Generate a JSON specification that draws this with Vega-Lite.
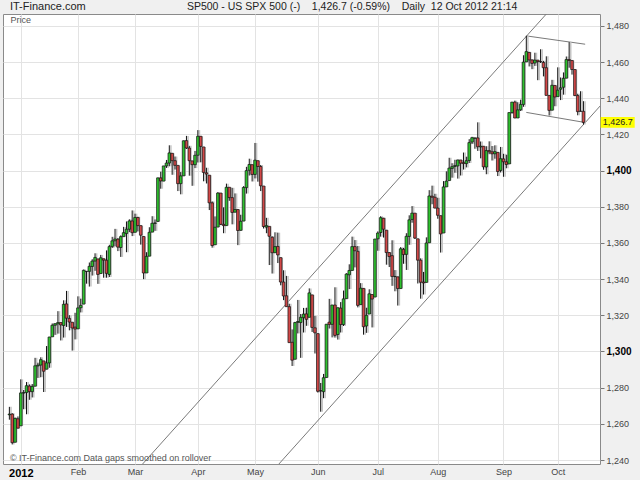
{
  "$schema": "https://vega.github.io/schema/vega-lite/v6.json",
  "width": 597,
  "height": 450,
  "autosize": {"type": "none"},
  "padding": {"left": 3, "top": 14, "right": 40, "bottom": 16},
  "background": "#f0f0f0",
  "config": {
    "font": "Liberation Sans",
    "view": {"fill": "#ffffff", "stroke": "#8a8a8a", "strokeWidth": 1}
  },
  "datasets": {
    "ohlc": [
      {"i":0,"d":"2011-12-27","o":1265.0,"h":1269.4,"l":1262.3,"c":1265.4},
      {"i":1,"d":"2011-12-28","o":1265.4,"h":1265.9,"l":1248.6,"c":1249.6},
      {"i":2,"d":"2011-12-29","o":1249.8,"h":1263.5,"l":1249.8,"c":1263.0},
      {"i":3,"d":"2011-12-30","o":1262.8,"h":1264.1,"l":1257.5,"c":1257.6},
      {"i":4,"d":"2012-01-03","o":1258.9,"h":1284.6,"l":1258.9,"c":1277.1},
      {"i":5,"d":"2012-01-04","o":1277.0,"h":1278.7,"l":1268.1,"c":1277.3},
      {"i":6,"d":"2012-01-05","o":1277.3,"h":1283.1,"l":1265.3,"c":1281.1},
      {"i":7,"d":"2012-01-06","o":1280.9,"h":1281.8,"l":1273.3,"c":1277.8},
      {"i":8,"d":"2012-01-09","o":1277.8,"h":1282.0,"l":1274.6,"c":1280.7},
      {"i":9,"d":"2012-01-10","o":1280.8,"h":1296.5,"l":1280.8,"c":1292.1},
      {"i":10,"d":"2012-01-11","o":1292.0,"h":1293.8,"l":1285.4,"c":1292.5},
      {"i":11,"d":"2012-01-12","o":1292.5,"h":1296.8,"l":1285.8,"c":1295.5},
      {"i":12,"d":"2012-01-13","o":1294.8,"h":1294.8,"l":1277.6,"c":1289.1},
      {"i":13,"d":"2012-01-17","o":1290.2,"h":1303.0,"l":1290.2,"c":1293.7},
      {"i":14,"d":"2012-01-18","o":1293.7,"h":1308.1,"l":1291.0,"c":1308.0},
      {"i":15,"d":"2012-01-19","o":1308.1,"h":1315.5,"l":1308.1,"c":1314.5},
      {"i":16,"d":"2012-01-20","o":1314.5,"h":1315.4,"l":1309.2,"c":1315.4},
      {"i":17,"d":"2012-01-23","o":1315.3,"h":1322.3,"l":1309.9,"c":1316.0},
      {"i":18,"d":"2012-01-24","o":1316.0,"h":1316.0,"l":1306.1,"c":1314.7},
      {"i":19,"d":"2012-01-25","o":1314.4,"h":1328.3,"l":1307.7,"c":1326.1},
      {"i":20,"d":"2012-01-26","o":1326.3,"h":1333.5,"l":1313.6,"c":1318.4},
      {"i":21,"d":"2012-01-27","o":1318.3,"h":1320.1,"l":1311.7,"c":1316.3},
      {"i":22,"d":"2012-01-30","o":1316.2,"h":1316.2,"l":1300.5,"c":1313.0},
      {"i":23,"d":"2012-01-31","o":1313.5,"h":1321.4,"l":1306.7,"c":1312.4},
      {"i":24,"d":"2012-02-01","o":1312.5,"h":1330.5,"l":1312.5,"c":1324.1},
      {"i":25,"d":"2012-02-02","o":1324.2,"h":1329.2,"l":1321.6,"c":1325.5},
      {"i":26,"d":"2012-02-03","o":1326.2,"h":1345.3,"l":1326.2,"c":1344.9},
      {"i":27,"d":"2012-02-06","o":1344.3,"h":1344.4,"l":1337.5,"c":1344.3},
      {"i":28,"d":"2012-02-07","o":1344.3,"h":1349.2,"l":1335.9,"c":1347.1},
      {"i":29,"d":"2012-02-08","o":1347.0,"h":1351.0,"l":1342.0,"c":1350.0},
      {"i":30,"d":"2012-02-09","o":1350.0,"h":1354.3,"l":1344.6,"c":1352.0},
      {"i":31,"d":"2012-02-10","o":1351.2,"h":1351.2,"l":1337.4,"c":1342.6},
      {"i":32,"d":"2012-02-13","o":1343.1,"h":1353.4,"l":1343.1,"c":1351.8},
      {"i":33,"d":"2012-02-14","o":1351.3,"h":1351.3,"l":1340.8,"c":1350.5},
      {"i":34,"d":"2012-02-15","o":1350.5,"h":1355.9,"l":1340.8,"c":1343.2},
      {"i":35,"d":"2012-02-16","o":1342.6,"h":1359.0,"l":1341.2,"c":1358.0},
      {"i":36,"d":"2012-02-17","o":1358.1,"h":1363.4,"l":1357.2,"c":1361.2},
      {"i":37,"d":"2012-02-21","o":1361.2,"h":1367.8,"l":1358.1,"c":1362.2},
      {"i":38,"d":"2012-02-22","o":1362.1,"h":1362.7,"l":1355.5,"c":1357.7},
      {"i":39,"d":"2012-02-23","o":1357.5,"h":1364.2,"l":1352.3,"c":1363.5},
      {"i":40,"d":"2012-02-24","o":1363.5,"h":1368.9,"l":1363.5,"c":1365.7},
      {"i":41,"d":"2012-02-27","o":1365.2,"h":1371.9,"l":1354.9,"c":1367.6},
      {"i":42,"d":"2012-02-28","o":1367.6,"h":1373.1,"l":1366.0,"c":1372.2},
      {"i":43,"d":"2012-02-29","o":1372.2,"h":1378.0,"l":1363.8,"c":1365.7},
      {"i":44,"d":"2012-03-01","o":1365.9,"h":1376.2,"l":1365.9,"c":1374.1},
      {"i":45,"d":"2012-03-02","o":1374.1,"h":1374.5,"l":1366.4,"c":1369.6},
      {"i":46,"d":"2012-03-05","o":1369.6,"h":1369.6,"l":1359.1,"c":1364.3},
      {"i":47,"d":"2012-03-06","o":1363.6,"h":1363.6,"l":1340.0,"c":1343.4},
      {"i":48,"d":"2012-03-07","o":1343.4,"h":1354.9,"l":1343.4,"c":1352.6},
      {"i":49,"d":"2012-03-08","o":1352.7,"h":1368.7,"l":1352.7,"c":1365.9},
      {"i":50,"d":"2012-03-09","o":1366.0,"h":1374.8,"l":1366.0,"c":1370.9},
      {"i":51,"d":"2012-03-12","o":1370.8,"h":1373.0,"l":1366.7,"c":1371.1},
      {"i":52,"d":"2012-03-13","o":1371.9,"h":1396.1,"l":1371.9,"c":1396.0},
      {"i":53,"d":"2012-03-14","o":1396.0,"h":1399.4,"l":1390.0,"c":1394.3},
      {"i":54,"d":"2012-03-15","o":1394.2,"h":1402.6,"l":1394.2,"c":1402.6},
      {"i":55,"d":"2012-03-16","o":1402.6,"h":1405.9,"l":1401.5,"c":1404.2},
      {"i":56,"d":"2012-03-19","o":1404.2,"h":1414.0,"l":1402.4,"c":1409.8},
      {"i":57,"d":"2012-03-20","o":1409.6,"h":1409.6,"l":1397.7,"c":1405.5},
      {"i":58,"d":"2012-03-21","o":1405.5,"h":1407.8,"l":1400.6,"c":1402.9},
      {"i":59,"d":"2012-03-22","o":1402.9,"h":1402.9,"l":1388.7,"c":1392.8},
      {"i":60,"d":"2012-03-23","o":1392.8,"h":1399.2,"l":1386.9,"c":1397.1},
      {"i":61,"d":"2012-03-26","o":1397.1,"h":1416.6,"l":1397.1,"c":1416.5},
      {"i":62,"d":"2012-03-27","o":1416.6,"h":1419.2,"l":1412.0,"c":1412.5},
      {"i":63,"d":"2012-03-28","o":1412.5,"h":1413.7,"l":1397.2,"c":1405.5},
      {"i":64,"d":"2012-03-29","o":1405.4,"h":1405.4,"l":1391.6,"c":1403.3},
      {"i":65,"d":"2012-03-30","o":1403.3,"h":1410.9,"l":1401.4,"c":1408.5},
      {"i":66,"d":"2012-04-02","o":1408.5,"h":1422.4,"l":1404.5,"c":1419.0},
      {"i":67,"d":"2012-04-03","o":1419.0,"h":1419.0,"l":1404.6,"c":1413.4},
      {"i":68,"d":"2012-04-04","o":1413.1,"h":1413.1,"l":1394.1,"c":1399.0},
      {"i":69,"d":"2012-04-05","o":1398.8,"h":1401.6,"l":1392.9,"c":1398.1},
      {"i":70,"d":"2012-04-09","o":1397.5,"h":1397.5,"l":1378.2,"c":1382.2},
      {"i":71,"d":"2012-04-10","o":1382.2,"h":1383.0,"l":1357.4,"c":1358.6},
      {"i":72,"d":"2012-04-11","o":1359.0,"h":1374.7,"l":1359.0,"c":1368.7},
      {"i":73,"d":"2012-04-12","o":1368.8,"h":1388.1,"l":1368.8,"c":1387.6},
      {"i":74,"d":"2012-04-13","o":1387.6,"h":1387.6,"l":1369.9,"c":1370.3},
      {"i":75,"d":"2012-04-16","o":1370.3,"h":1379.7,"l":1365.4,"c":1369.6},
      {"i":76,"d":"2012-04-17","o":1369.6,"h":1392.8,"l":1369.6,"c":1390.8},
      {"i":77,"d":"2012-04-18","o":1390.8,"h":1390.8,"l":1383.3,"c":1385.1},
      {"i":78,"d":"2012-04-19","o":1385.1,"h":1390.5,"l":1370.3,"c":1376.9},
      {"i":79,"d":"2012-04-20","o":1377.0,"h":1387.4,"l":1377.0,"c":1378.5},
      {"i":80,"d":"2012-04-23","o":1378.5,"h":1378.5,"l":1358.8,"c":1366.9},
      {"i":81,"d":"2012-04-24","o":1367.0,"h":1375.6,"l":1366.8,"c":1372.0},
      {"i":82,"d":"2012-04-25","o":1372.1,"h":1391.4,"l":1372.1,"c":1390.7},
      {"i":83,"d":"2012-04-26","o":1390.6,"h":1402.1,"l":1387.3,"c":1400.0},
      {"i":84,"d":"2012-04-27","o":1400.2,"h":1406.6,"l":1397.3,"c":1403.4},
      {"i":85,"d":"2012-04-30","o":1403.3,"h":1403.3,"l":1394.0,"c":1397.9},
      {"i":86,"d":"2012-05-01","o":1397.9,"h":1415.3,"l":1395.7,"c":1405.8},
      {"i":87,"d":"2012-05-02","o":1405.5,"h":1405.5,"l":1393.9,"c":1402.3},
      {"i":88,"d":"2012-05-03","o":1402.3,"h":1403.1,"l":1388.7,"c":1391.6},
      {"i":89,"d":"2012-05-04","o":1391.5,"h":1391.5,"l":1368.0,"c":1369.1},
      {"i":90,"d":"2012-05-07","o":1368.8,"h":1373.9,"l":1365.4,"c":1369.6},
      {"i":91,"d":"2012-05-08","o":1369.2,"h":1369.2,"l":1347.8,"c":1363.7},
      {"i":92,"d":"2012-05-09","o":1363.2,"h":1363.7,"l":1343.1,"c":1354.6},
      {"i":93,"d":"2012-05-10","o":1354.6,"h":1365.9,"l":1354.6,"c":1358.0},
      {"i":94,"d":"2012-05-11","o":1358.1,"h":1365.7,"l":1348.9,"c":1353.4},
      {"i":95,"d":"2012-05-14","o":1351.9,"h":1351.9,"l":1336.6,"c":1338.4},
      {"i":96,"d":"2012-05-15","o":1338.4,"h":1344.9,"l":1328.4,"c":1330.7},
      {"i":97,"d":"2012-05-16","o":1330.8,"h":1341.8,"l":1324.8,"c":1324.8},
      {"i":98,"d":"2012-05-17","o":1324.8,"h":1326.4,"l":1304.9,"c":1304.9},
      {"i":99,"d":"2012-05-18","o":1305.1,"h":1312.2,"l":1292.0,"c":1295.2},
      {"i":100,"d":"2012-05-21","o":1295.7,"h":1316.4,"l":1295.7,"c":1316.0},
      {"i":101,"d":"2012-05-22","o":1316.1,"h":1328.5,"l":1310.0,"c":1316.6},
      {"i":102,"d":"2012-05-23","o":1316.0,"h":1320.7,"l":1296.5,"c":1318.9},
      {"i":103,"d":"2012-05-24","o":1318.7,"h":1324.1,"l":1310.5,"c":1320.7},
      {"i":104,"d":"2012-05-25","o":1320.8,"h":1324.2,"l":1314.2,"c":1317.8},
      {"i":105,"d":"2012-05-29","o":1318.9,"h":1334.9,"l":1318.9,"c":1332.4},
      {"i":106,"d":"2012-05-30","o":1331.3,"h":1331.3,"l":1310.8,"c":1313.3},
      {"i":107,"d":"2012-05-31","o":1313.1,"h":1319.7,"l":1298.9,"c":1310.3},
      {"i":108,"d":"2012-06-01","o":1309.9,"h":1309.9,"l":1277.3,"c":1278.0},
      {"i":109,"d":"2012-06-04","o":1278.3,"h":1282.6,"l":1266.7,"c":1278.2},
      {"i":110,"d":"2012-06-05","o":1277.8,"h":1287.6,"l":1274.2,"c":1285.5},
      {"i":111,"d":"2012-06-06","o":1285.6,"h":1315.1,"l":1285.6,"c":1315.1},
      {"i":112,"d":"2012-06-07","o":1316.2,"h":1329.1,"l":1312.7,"c":1315.0},
      {"i":113,"d":"2012-06-08","o":1315.0,"h":1325.8,"l":1307.8,"c":1325.7},
      {"i":114,"d":"2012-06-11","o":1325.7,"h":1335.5,"l":1307.7,"c":1308.9},
      {"i":115,"d":"2012-06-12","o":1309.4,"h":1324.3,"l":1306.6,"c":1324.2},
      {"i":116,"d":"2012-06-13","o":1324.0,"h":1327.3,"l":1310.5,"c":1314.9},
      {"i":117,"d":"2012-06-14","o":1314.9,"h":1333.7,"l":1314.1,"c":1329.1},
      {"i":118,"d":"2012-06-15","o":1329.2,"h":1343.3,"l":1329.2,"c":1342.8},
      {"i":119,"d":"2012-06-18","o":1342.4,"h":1348.2,"l":1334.5,"c":1344.8},
      {"i":120,"d":"2012-06-19","o":1344.8,"h":1363.5,"l":1344.8,"c":1358.0},
      {"i":121,"d":"2012-06-20","o":1358.0,"h":1361.6,"l":1346.5,"c":1355.7},
      {"i":122,"d":"2012-06-21","o":1355.4,"h":1358.3,"l":1324.4,"c":1325.5},
      {"i":123,"d":"2012-06-22","o":1325.9,"h":1337.8,"l":1325.9,"c":1335.0},
      {"i":124,"d":"2012-06-25","o":1334.9,"h":1334.9,"l":1309.3,"c":1313.7},
      {"i":125,"d":"2012-06-26","o":1314.1,"h":1324.2,"l":1310.3,"c":1320.0},
      {"i":126,"d":"2012-06-27","o":1320.7,"h":1334.4,"l":1320.7,"c":1331.9},
      {"i":127,"d":"2012-06-28","o":1331.5,"h":1331.5,"l":1313.3,"c":1329.0},
      {"i":128,"d":"2012-06-29","o":1330.1,"h":1362.2,"l":1330.1,"c":1362.2},
      {"i":129,"d":"2012-07-02","o":1362.3,"h":1366.4,"l":1355.7,"c":1365.5},
      {"i":130,"d":"2012-07-03","o":1365.8,"h":1374.8,"l":1363.5,"c":1374.0},
      {"i":131,"d":"2012-07-05","o":1373.7,"h":1373.9,"l":1363.0,"c":1367.6},
      {"i":132,"d":"2012-07-06","o":1367.1,"h":1367.1,"l":1348.0,"c":1354.7},
      {"i":133,"d":"2012-07-09","o":1354.7,"h":1354.9,"l":1346.7,"c":1352.5},
      {"i":134,"d":"2012-07-10","o":1353.0,"h":1361.5,"l":1336.3,"c":1341.5},
      {"i":135,"d":"2012-07-11","o":1341.4,"h":1345.0,"l":1333.3,"c":1341.5},
      {"i":136,"d":"2012-07-12","o":1341.3,"h":1341.3,"l":1325.4,"c":1334.8},
      {"i":137,"d":"2012-07-13","o":1334.8,"h":1357.7,"l":1334.8,"c":1356.8},
      {"i":138,"d":"2012-07-16","o":1356.5,"h":1357.3,"l":1348.5,"c":1353.6},
      {"i":139,"d":"2012-07-17","o":1353.7,"h":1365.4,"l":1345.1,"c":1363.7},
      {"i":140,"d":"2012-07-18","o":1363.6,"h":1375.3,"l":1359.0,"c":1372.8},
      {"i":141,"d":"2012-07-19","o":1373.0,"h":1380.4,"l":1371.2,"c":1376.5},
      {"i":142,"d":"2012-07-20","o":1376.5,"h":1376.5,"l":1362.2,"c":1362.7},
      {"i":143,"d":"2012-07-23","o":1362.3,"h":1362.3,"l":1337.6,"c":1350.5},
      {"i":144,"d":"2012-07-24","o":1350.5,"h":1351.5,"l":1329.2,"c":1338.3},
      {"i":145,"d":"2012-07-25","o":1338.4,"h":1344.0,"l":1331.5,"c":1337.9},
      {"i":146,"d":"2012-07-26","o":1338.2,"h":1363.1,"l":1338.2,"c":1360.0},
      {"i":147,"d":"2012-07-27","o":1360.1,"h":1389.2,"l":1360.1,"c":1386.0},
      {"i":148,"d":"2012-07-30","o":1385.9,"h":1391.7,"l":1381.4,"c":1385.3},
      {"i":149,"d":"2012-07-31","o":1385.3,"h":1387.2,"l":1379.2,"c":1379.3},
      {"i":150,"d":"2012-08-01","o":1379.3,"h":1385.0,"l":1373.4,"c":1375.3},
      {"i":151,"d":"2012-08-02","o":1375.1,"h":1375.1,"l":1354.7,"c":1365.0},
      {"i":152,"d":"2012-08-03","o":1365.5,"h":1394.2,"l":1365.5,"c":1391.0},
      {"i":153,"d":"2012-08-06","o":1391.0,"h":1399.6,"l":1391.0,"c":1394.2},
      {"i":154,"d":"2012-08-07","o":1394.5,"h":1407.1,"l":1394.5,"c":1401.4},
      {"i":155,"d":"2012-08-08","o":1401.2,"h":1404.1,"l":1396.1,"c":1402.2},
      {"i":156,"d":"2012-08-09","o":1402.3,"h":1406.0,"l":1398.8,"c":1402.8},
      {"i":157,"d":"2012-08-10","o":1402.6,"h":1406.0,"l":1395.6,"c":1405.9},
      {"i":158,"d":"2012-08-13","o":1405.9,"h":1405.9,"l":1397.3,"c":1404.1},
      {"i":159,"d":"2012-08-14","o":1404.4,"h":1410.0,"l":1400.6,"c":1403.9},
      {"i":160,"d":"2012-08-15","o":1403.9,"h":1407.7,"l":1401.8,"c":1405.5},
      {"i":161,"d":"2012-08-16","o":1405.6,"h":1417.4,"l":1404.2,"c":1415.5},
      {"i":162,"d":"2012-08-17","o":1415.8,"h":1418.7,"l":1414.7,"c":1418.2},
      {"i":163,"d":"2012-08-20","o":1417.9,"h":1418.1,"l":1412.1,"c":1418.1},
      {"i":164,"d":"2012-08-21","o":1418.1,"h":1426.7,"l":1410.9,"c":1413.2},
      {"i":165,"d":"2012-08-22","o":1413.1,"h":1416.1,"l":1406.8,"c":1413.5},
      {"i":166,"d":"2012-08-23","o":1413.5,"h":1413.5,"l":1400.5,"c":1402.1},
      {"i":167,"d":"2012-08-24","o":1402.0,"h":1413.5,"l":1398.0,"c":1411.1},
      {"i":168,"d":"2012-08-27","o":1411.1,"h":1416.2,"l":1409.1,"c":1410.4},
      {"i":169,"d":"2012-08-28","o":1410.4,"h":1413.6,"l":1405.6,"c":1409.3},
      {"i":170,"d":"2012-08-29","o":1409.3,"h":1414.0,"l":1406.6,"c":1410.5},
      {"i":171,"d":"2012-08-30","o":1410.1,"h":1410.1,"l":1397.0,"c":1399.5},
      {"i":172,"d":"2012-08-31","o":1400.1,"h":1413.1,"l":1399.0,"c":1406.6},
      {"i":173,"d":"2012-09-04","o":1406.5,"h":1409.3,"l":1396.6,"c":1404.9},
      {"i":174,"d":"2012-09-05","o":1404.9,"h":1408.8,"l":1401.3,"c":1403.4},
      {"i":175,"d":"2012-09-06","o":1403.7,"h":1432.1,"l":1403.7,"c":1432.1},
      {"i":176,"d":"2012-09-07","o":1432.1,"h":1437.9,"l":1431.5,"c":1437.9},
      {"i":177,"d":"2012-09-10","o":1437.9,"h":1438.7,"l":1429.0,"c":1429.1},
      {"i":178,"d":"2012-09-11","o":1429.1,"h":1437.8,"l":1429.1,"c":1433.6},
      {"i":179,"d":"2012-09-12","o":1433.6,"h":1439.2,"l":1433.0,"c":1436.6},
      {"i":180,"d":"2012-09-13","o":1436.6,"h":1463.8,"l":1435.3,"c":1460.0},
      {"i":181,"d":"2012-09-14","o":1460.1,"h":1474.5,"l":1460.1,"c":1465.8},
      {"i":182,"d":"2012-09-17","o":1465.4,"h":1465.6,"l":1457.6,"c":1461.2},
      {"i":183,"d":"2012-09-18","o":1461.2,"h":1461.5,"l":1456.1,"c":1459.3},
      {"i":184,"d":"2012-09-19","o":1459.5,"h":1465.2,"l":1457.9,"c":1461.1},
      {"i":185,"d":"2012-09-20","o":1461.1,"h":1461.2,"l":1450.0,"c":1460.3},
      {"i":186,"d":"2012-09-21","o":1460.3,"h":1467.1,"l":1459.5,"c":1460.2},
      {"i":187,"d":"2012-09-24","o":1459.8,"h":1460.7,"l":1452.1,"c":1456.9},
      {"i":188,"d":"2012-09-25","o":1456.9,"h":1463.2,"l":1441.6,"c":1441.6},
      {"i":189,"d":"2012-09-26","o":1441.6,"h":1441.6,"l":1430.5,"c":1433.3},
      {"i":190,"d":"2012-09-27","o":1433.4,"h":1450.2,"l":1433.4,"c":1447.2},
      {"i":191,"d":"2012-09-28","o":1447.1,"h":1447.1,"l":1435.6,"c":1440.7},
      {"i":192,"d":"2012-10-01","o":1440.9,"h":1457.1,"l":1440.9,"c":1444.5},
      {"i":193,"d":"2012-10-02","o":1445.0,"h":1451.5,"l":1439.0,"c":1445.8},
      {"i":194,"d":"2012-10-03","o":1446.1,"h":1454.3,"l":1442.0,"c":1451.0},
      {"i":195,"d":"2012-10-04","o":1451.1,"h":1463.1,"l":1451.1,"c":1461.4},
      {"i":196,"d":"2012-10-05","o":1461.4,"h":1471.0,"l":1456.9,"c":1460.9},
      {"i":197,"d":"2012-10-08","o":1460.9,"h":1460.9,"l":1453.1,"c":1455.9},
      {"i":198,"d":"2012-10-09","o":1455.9,"h":1455.9,"l":1441.2,"c":1441.5},
      {"i":199,"d":"2012-10-10","o":1441.5,"h":1442.5,"l":1430.6,"c":1432.6},
      {"i":200,"d":"2012-10-11","o":1432.8,"h":1443.9,"l":1432.8,"c":1432.8},
      {"i":201,"d":"2012-10-12","o":1432.8,"h":1438.4,"l":1425.5,"c":1426.7}
    ],
    "lines": [
      {"g":"upper channel","i":40,"v":1226.1},
      {"g":"upper channel","i":195,"v":1498.9},
      {"g":"lower channel","i":90,"v":1230.1},
      {"g":"lower channel","i":210,"v":1441.3},
      {"g":"flag top","i":181,"v":1474.5},
      {"g":"flag top","i":201.6,"v":1469.9},
      {"g":"flag bottom","i":181,"v":1432.2},
      {"g":"flag bottom","i":201.6,"v":1426.6}
    ]
  },
  "data": {"name": "ohlc"},
  "layer": [
    {
      "data": {"name": "lines"},
      "mark": {"type": "line", "color": "#7a7a7a", "strokeWidth": 1, "clip": true},
      "encoding": {
        "x": {
          "field": "i",
          "type": "quantitative",
          "scale": {"domain": [-0.48, 205.05], "nice": false, "zero": false},
          "axis": {
            "orient": "bottom",
            "values": [4, 24, 44, 66, 86, 108, 129, 150, 173, 192],
            "labelExpr": "datum.value == 4 ? '2012' : datum.value == 24 ? 'Feb' : datum.value == 44 ? 'Mar' : datum.value == 66 ? 'Apr' : datum.value == 86 ? 'May' : datum.value == 108 ? 'Jun' : datum.value == 129 ? 'Jul' : datum.value == 150 ? 'Aug' : datum.value == 173 ? 'Sep' : 'Oct'",
            "title": null,
            "grid": true,
            "gridColor": "#e3e3e3",
            "gridWidth": 1,
            "ticks": false,
            "domain": false,
            "labelOverlap": false,
            "labelPadding": 3,
            "labelAngle": 0,
            "labelFontSize": {"condition": {"test": "datum.value == 4", "value": 11}, "value": 9},
            "labelFontWeight": {"condition": {"test": "datum.value == 4", "value": "bold"}, "value": "normal"},
            "labelColor": {"condition": {"test": "datum.value == 4", "value": "#000000"}, "value": "#444444"}
          }
        },
        "y": {
          "field": "v",
          "type": "quantitative",
          "scale": {"domain": [1237.8, 1486.6], "nice": false, "zero": false},
          "axis": {
            "orient": "right",
            "values": [1240, 1260, 1280, 1300, 1320, 1340, 1360, 1380, 1400, 1420, 1440, 1460, 1480],
            "labelExpr": "format(datum.value, ',')",
            "title": null,
            "grid": true,
            "gridColor": "#e3e3e3",
            "gridWidth": 1,
            "tickSize": 4,
            "tickColor": "#777777",
            "domain": false,
            "labelOverlap": false,
            "labelPadding": 2,
            "labelFontSize": {"condition": {"test": "datum.value == 1300 || datum.value == 1400", "value": 10}, "value": 9},
            "labelFontWeight": {"condition": {"test": "datum.value == 1300 || datum.value == 1400", "value": "bold"}, "value": "normal"},
            "labelColor": {"condition": {"test": "datum.value == 1300 || datum.value == 1400", "value": "#000000"}, "value": "#444444"}
          }
        },
        "detail": {"field": "g"}
      }
    },
    {
      "mark": {"type": "rule", "color": "#c4c4c4", "strokeWidth": 1.5, "xOffset": 1.6},
      "encoding": {
        "x": {"field": "i", "type": "quantitative"},
        "y": {"field": "l", "type": "quantitative", "axis": {"values": [1240, 1260, 1280, 1300, 1320, 1340, 1360, 1380, 1400, 1420, 1440, 1460, 1480], "labelOverlap": false}},
        "y2": {"field": "h"}
      }
    },
    {
      "mark": {"type": "rule", "color": "#111111", "strokeWidth": 1},
      "encoding": {
        "x": {"field": "i", "type": "quantitative"},
        "y": {"field": "l", "type": "quantitative", "axis": {"values": [1240, 1260, 1280, 1300, 1320, 1340, 1360, 1380, 1400, 1420, 1440, 1460, 1480], "labelOverlap": false}},
        "y2": {"field": "h"}
      }
    },
    {
      "mark": {"type": "bar", "size": 2.6, "stroke": "#111111", "strokeWidth": 0.7},
      "encoding": {
        "x": {"field": "i", "type": "quantitative"},
        "y": {"field": "o", "type": "quantitative", "axis": {"values": [1240, 1260, 1280, 1300, 1320, 1340, 1360, 1380, 1400, 1420, 1440, 1460, 1480], "labelOverlap": false}},
        "y2": {"field": "c"},
        "fill": {"condition": {"test": "datum.c >= datum.o", "value": "#2ec22e"}, "value": "#d24848"}
      }
    },
    {
      "data": {"values": [{"i": 213, "v": 1426.7, "label": "1,426.7"}]},
      "mark": {"type": "point", "shape": "M-1,-0.32H1V0.32H-1Z", "size": 1156, "filled": true, "color": "#ffff00", "opacity": 1},
      "encoding": {
        "x": {"field": "i", "type": "quantitative"},
        "y": {"field": "v", "type": "quantitative", "axis": {"values": [1240, 1260, 1280, 1300, 1320, 1340, 1360, 1380, 1400, 1420, 1440, 1460, 1480], "labelOverlap": false}}
      }
    },
    {
      "data": {"values": [{"i": 213, "v": 1426.7, "label": "1,426.7"}]},
      "mark": {"type": "text", "fontSize": 9, "color": "#222222", "align": "center", "baseline": "middle"},
      "encoding": {
        "x": {"field": "i", "type": "quantitative"},
        "y": {"field": "v", "type": "quantitative", "axis": {"values": [1240, 1260, 1280, 1300, 1320, 1340, 1360, 1380, 1400, 1420, 1440, 1460, 1480], "labelOverlap": false}},
        "text": {"field": "label"}
      }
    },
    {
      "data": {"values": [
        {"i": 120, "v": 1486.6, "label": "SP500 - US SPX 500 (-)\u00a0\u00a0\u00a0 1,426.7 (-0.59%)\u00a0\u00a0\u00a0 Daily\u00a0 12 Oct 2012 21:14"}
      ]},
      "mark": {"type": "text", "fontSize": 10.5, "color": "#222222", "align": "center", "baseline": "bottom", "dy": -2},
      "encoding": {
        "x": {"field": "i", "type": "quantitative"},
        "y": {"field": "v", "type": "quantitative", "axis": {"values": [1240, 1260, 1280, 1300, 1320, 1340, 1360, 1380, 1400, 1420, 1440, 1460, 1480], "labelOverlap": false}},
        "text": {"field": "label"}
      }
    },
    {
      "data": {"values": [
        {"i": 0.2, "v": 1486.6, "label": "IT-Finance.com"}
      ]},
      "mark": {"type": "text", "fontSize": 11, "color": "#222222", "align": "left", "baseline": "bottom", "dy": -2},
      "encoding": {
        "x": {"field": "i", "type": "quantitative"},
        "y": {"field": "v", "type": "quantitative", "axis": {"values": [1240, 1260, 1280, 1300, 1320, 1340, 1360, 1380, 1400, 1420, 1440, 1460, 1480], "labelOverlap": false}},
        "text": {"field": "label"}
      }
    },
    {
      "data": {"values": [
        {"i": 0.4, "v": 1486.6, "label": "Price"}
      ]},
      "mark": {"type": "text", "fontSize": 9, "color": "#555555", "align": "left", "baseline": "top", "dy": 2},
      "encoding": {
        "x": {"field": "i", "type": "quantitative"},
        "y": {"field": "v", "type": "quantitative", "axis": {"values": [1240, 1260, 1280, 1300, 1320, 1340, 1360, 1380, 1400, 1420, 1440, 1460, 1480], "labelOverlap": false}},
        "text": {"field": "label"}
      }
    },
    {
      "data": {"values": [
        {"i": 0.2, "v": 1237.8, "label": "© IT-Finance.com  Data gaps smoothed on rollover"}
      ]},
      "mark": {"type": "text", "fontSize": 9, "color": "#555555", "align": "left", "baseline": "bottom", "dy": -1},
      "encoding": {
        "x": {"field": "i", "type": "quantitative"},
        "y": {"field": "v", "type": "quantitative", "axis": {"values": [1240, 1260, 1280, 1300, 1320, 1340, 1360, 1380, 1400, 1420, 1440, 1460, 1480], "labelOverlap": false}},
        "text": {"field": "label"}
      }
    }
  ]
}
